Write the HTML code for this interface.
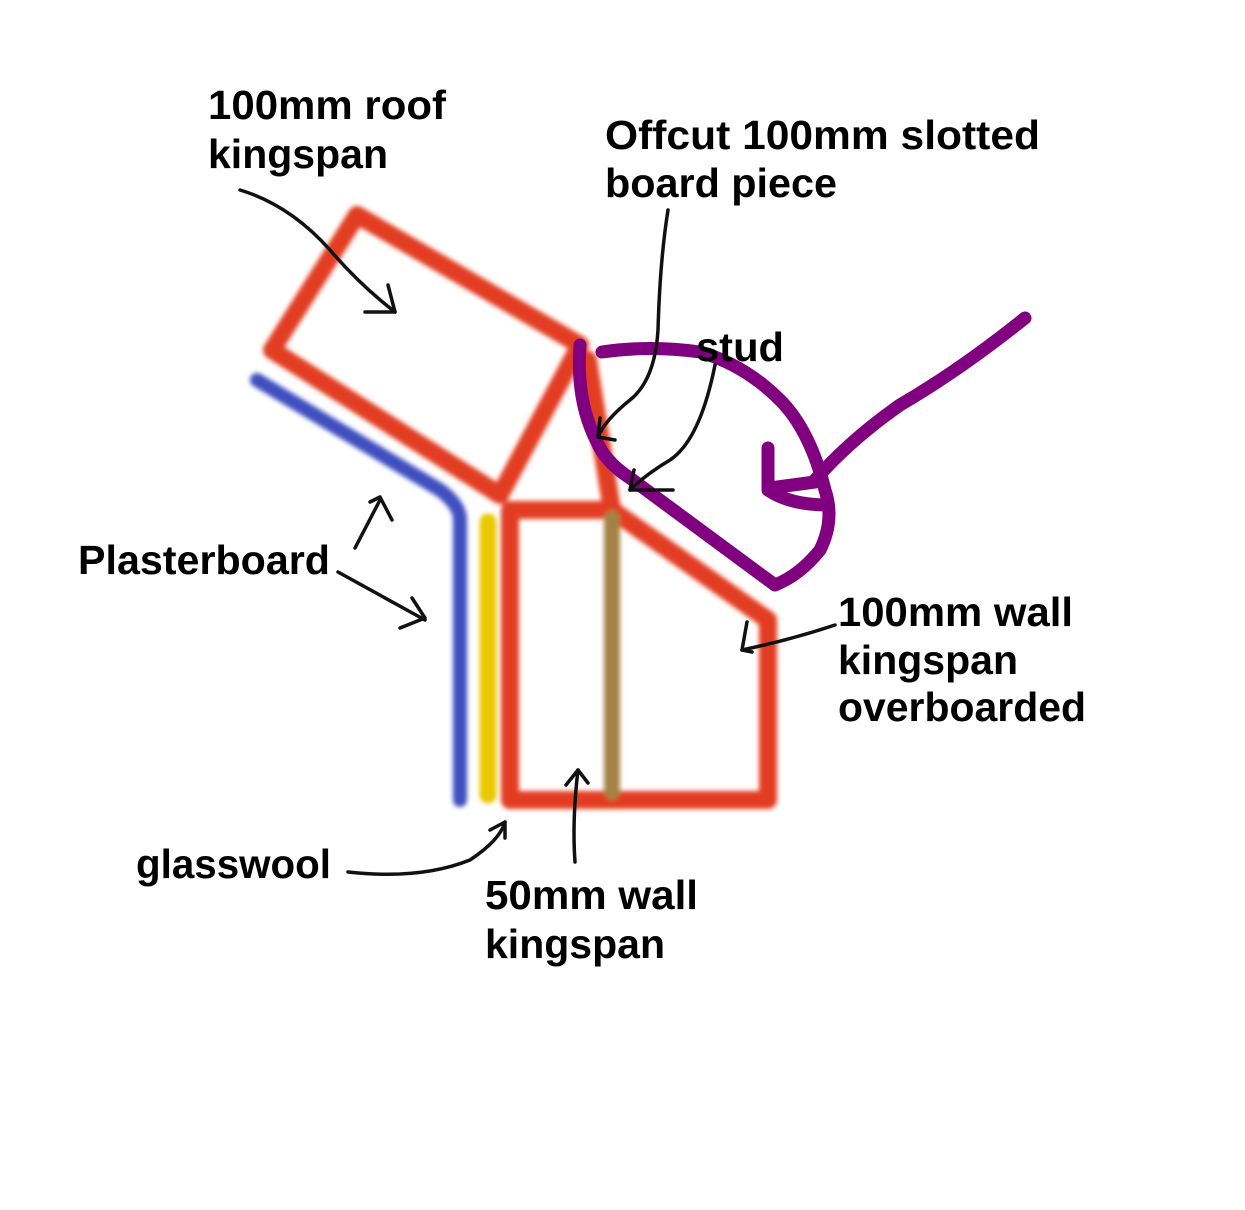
<!DOCTYPE html>
<html><head><meta charset="utf-8"><style>html,body{margin:0;background:#fff}svg{display:block}</style></head>
<body>
<svg width="1245" height="1210" viewBox="0 0 1245 1210" xmlns="http://www.w3.org/2000/svg">
<defs><filter id="b" x="-10%" y="-10%" width="120%" height="120%"><feGaussianBlur stdDeviation="2.5"/></filter></defs>
<g filter="url(#b)" fill="none" stroke-linecap="round" stroke-linejoin="round">
<g stroke="#e23c22" stroke-width="18">
<path d="M357,215 L580,345 L500,495 L272,350 Z"/>
<path d="M588,360 L612,510"/>
<path d="M510,800 L510,510 L612,510 L768,620 L768,800 Z"/>
</g>
<path d="M612,518 L612,792" stroke="#a48244" stroke-width="16"/>
<path d="M257,380 L440,490 Q460,505 460,520 L460,800" stroke="#4050c0" stroke-width="14"/>
<path d="M488,522 L488,795" stroke="#eac800" stroke-width="17"/>
</g>
<g fill="none" stroke="#800080" stroke-width="13" stroke-linecap="round" stroke-linejoin="round">
<path d="M580,345 Q576,400 596,440 Q605,462 630,478 L775,585 Q800,575 820,550 Q835,520 825,490 Q810,430 780,400 Q745,365 700,352 Q650,345 602,352"/>
<path d="M1025,318 Q960,370 900,405 Q850,440 815,480"/>
<path d="M768,448 L768,490 Q790,505 828,505"/>
<path d="M770,488 L815,482"/>
</g>
<g fill="none" stroke="#111" stroke-width="3.5" stroke-linecap="round" stroke-linejoin="round">
<path d="M240,190 Q290,205 330,250 Q360,285 395,312"/><path d="M388,285 L395,312 L365,312"/>
<path d="M668,210 Q660,260 658,330 Q655,380 630,400 Q605,420 598,437"/><path d="M600,418 L598,437 L615,440"/>
<path d="M715,365 Q700,440 670,460 Q645,475 630,490"/><path d="M634,470 L630,490 L673,490"/>
<path d="M355,548 L380,500"/><path d="M370,502 L380,497 L392,520"/>
<path d="M338,572 Q380,595 425,620"/><path d="M412,598 L425,618 L400,628"/>
<path d="M835,625 Q790,640 742,650"/><path d="M747,622 L742,650 L752,652"/>
<path d="M348,872 Q420,880 470,860 Q500,840 505,822"/><path d="M490,830 L505,822 L505,838"/>
<path d="M575,862 Q572,820 578,770"/><path d="M566,785 L578,770 L588,783"/>
</g>
<g font-family="Liberation Sans, sans-serif" font-weight="bold" font-size="41" fill="#000">
<text x="208" y="119" textLength="238" lengthAdjust="spacingAndGlyphs">100mm roof</text>
<text x="208" y="168" textLength="180" lengthAdjust="spacingAndGlyphs">kingspan</text>
<text x="605" y="149" textLength="435" lengthAdjust="spacingAndGlyphs">Offcut 100mm slotted</text>
<text x="605" y="197" textLength="232" lengthAdjust="spacingAndGlyphs">board piece</text>
<text x="696" y="361" textLength="88" lengthAdjust="spacingAndGlyphs">stud</text>
<text x="78" y="574" textLength="252" lengthAdjust="spacingAndGlyphs">Plasterboard</text>
<text x="838" y="626" textLength="235" lengthAdjust="spacingAndGlyphs">100mm wall</text>
<text x="838" y="674" textLength="180" lengthAdjust="spacingAndGlyphs">kingspan</text>
<text x="838" y="721" textLength="248" lengthAdjust="spacingAndGlyphs">overboarded</text>
<text x="136" y="878" textLength="195" lengthAdjust="spacingAndGlyphs">glasswool</text>
<text x="485" y="909" textLength="213" lengthAdjust="spacingAndGlyphs">50mm wall</text>
<text x="485" y="958" textLength="180" lengthAdjust="spacingAndGlyphs">kingspan</text>
</g>
</svg>
</body></html>
